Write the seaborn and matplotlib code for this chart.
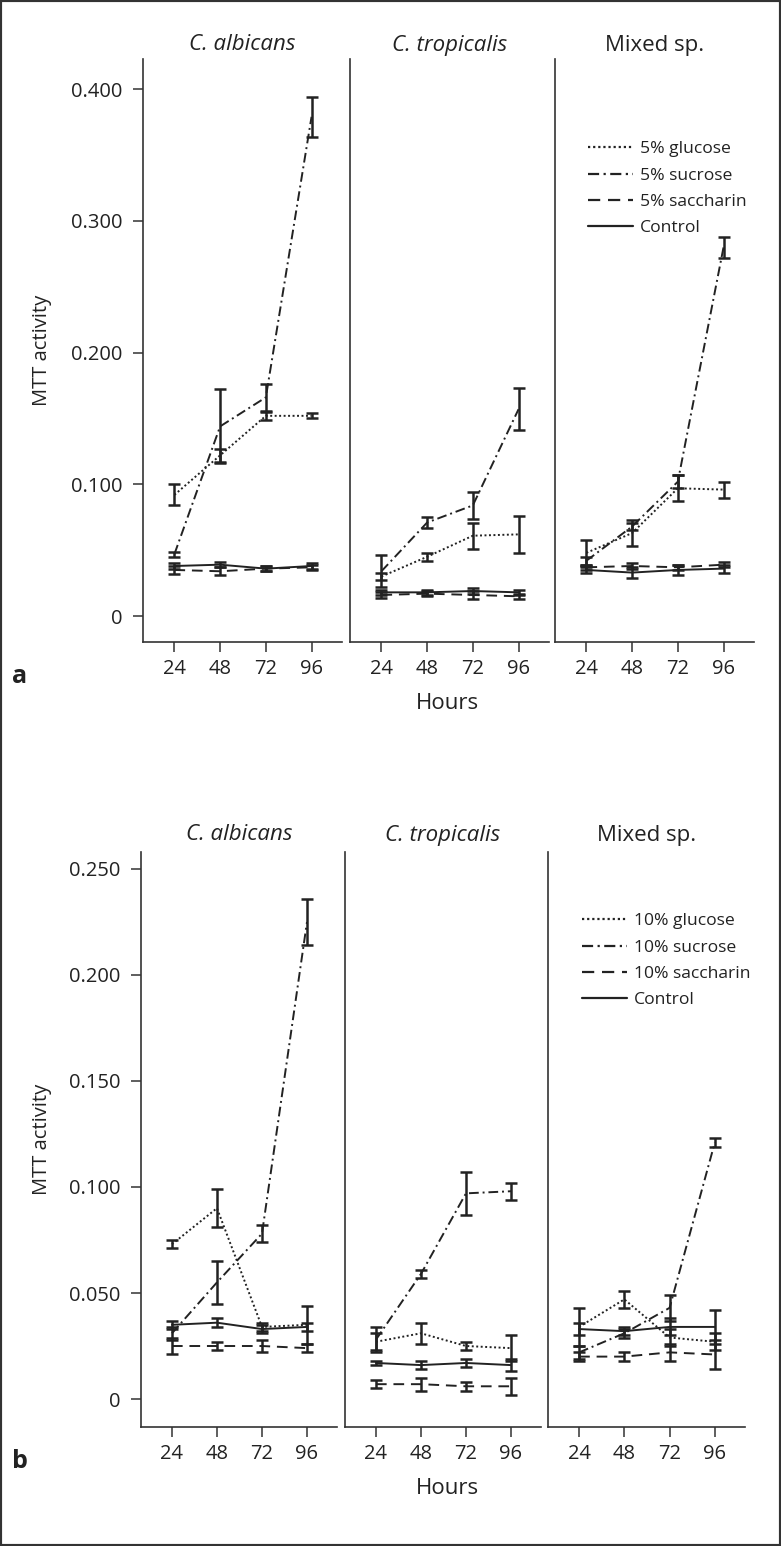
import pandas as pd
import seaborn as sns
import matplotlib.pyplot as plt
from matplotlib.lines import Line2D
from matplotlib.patches import Rectangle

hours = [24, 48, 72, 96]
species = ['C. albicans', 'C. tropicalis', 'Mixed sp.']
treatments_a = ['5% glucose', '5% sucrose', '5% saccharin', 'Control']
treatments_b = ['10% glucose', '10% sucrose', '10% saccharin', 'Control']

# panel a, rows = C. albicans, C. tropicalis, Mixed sp.
glucose_a = [[0.092, 0.122, 0.152, 0.152], [0.030, 0.045, 0.061, 0.062], [0.048, 0.063, 0.097, 0.096]]
glucose_a_err = [[0.008, 0.005, 0.003, 0.002], [0.003, 0.003, 0.010, 0.014], [0.010, 0.010, 0.010, 0.006]]
sucrose_a = [[0.047, 0.144, 0.166, 0.379], [0.034, 0.071, 0.084, 0.157], [0.042, 0.068, 0.102, 0.280]]
sucrose_a_err = [[0.002, 0.028, 0.010, 0.015], [0.012, 0.004, 0.010, 0.016], [0.003, 0.003, 0.005, 0.008]]
saccharin_a = [[0.035, 0.034, 0.036, 0.037], [0.016, 0.017, 0.016, 0.015], [0.037, 0.038, 0.037, 0.039]]
saccharin_a_err = [[0.003, 0.003, 0.002, 0.002], [0.002, 0.002, 0.003, 0.002], [0.002, 0.002, 0.002, 0.002]]
control_a = [[0.038, 0.039, 0.036, 0.038], [0.018, 0.018, 0.019, 0.018], [0.035, 0.033, 0.035, 0.036]]
control_a_err = [[0.002, 0.002, 0.002, 0.002], [0.002, 0.002, 0.002, 0.002], [0.002, 0.004, 0.004, 0.003]]

# panel b
glucose_b = [[0.073, 0.090, 0.034, 0.035], [0.027, 0.031, 0.025, 0.024], [0.034, 0.047, 0.029, 0.027]]
glucose_b_err = [[0.002, 0.009, 0.002, 0.009], [0.004, 0.005, 0.002, 0.006], [0.009, 0.004, 0.004, 0.004]]
sucrose_b = [[0.031, 0.055, 0.078, 0.225], [0.028, 0.059, 0.097, 0.098], [0.022, 0.031, 0.043, 0.121]]
sucrose_b_err = [[0.003, 0.010, 0.004, 0.011], [0.006, 0.002, 0.010, 0.004], [0.003, 0.002, 0.006, 0.002]]
saccharin_b = [[0.025, 0.025, 0.025, 0.024], [0.007, 0.007, 0.006, 0.006], [0.020, 0.020, 0.022, 0.021]]
saccharin_b_err = [[0.004, 0.002, 0.003, 0.002], [0.002, 0.003, 0.002, 0.004], [0.002, 0.002, 0.004, 0.007]]
control_b = [[0.035, 0.036, 0.033, 0.034], [0.017, 0.016, 0.017, 0.016], [0.033, 0.032, 0.034, 0.034]]
control_b_err = [[0.002, 0.002, 0.002, 0.002], [0.001, 0.002, 0.002, 0.003], [0.003, 0.002, 0.004, 0.008]]

dash_list = [(1, 1.3), (5, 2, 1, 2), (5.5, 3.5), '']

W, H = 781, 1546
INK = '#222222'

sns.set_style('white')
plt.rcParams['font.family'] = ['Open Sans', 'DejaVu Sans']


def long_table(series, errs, names):
    rows = []
    for name, vals, ers in zip(names, series, errs):
        for sp, v_row, e_row in zip(species, vals, ers):
            for h, v, e in zip(hours, v_row, e_row):
                rows.append({'species': sp, 'treatment': name, 'hours': h, 'mtt': v, 'err': e})
    return pd.DataFrame(rows)


def px_axes(fig, left, right, top, bottom):
    return fig.add_axes([left / W, 1 - bottom / H, (right - left) / W, (bottom - top) / H])


def fmt_y(v):
    return '0' if abs(v) < 1e-9 else '%.3f' % v


def draw_panel(fig, df, names, boxes, top, bottom, ylim, yticks, title_y, leg_pos, letter, label_y):
    dashes = dict(zip(names, dash_list))
    for i, (sp, (l, r)) in enumerate(zip(species, boxes)):
        ax = px_axes(fig, l, r, top, bottom)
        sub = df[df.species == sp]
        sns.lineplot(data=sub, x='hours', y='mtt', style='treatment', style_order=names,
                     dashes=dashes, color=INK, lw=1.4, legend=False, ax=ax)
        for name in names:
            t = sub[sub.treatment == name]
            ax.errorbar(t.hours, t.mtt, yerr=t.err, fmt='none', ecolor=INK,
                        elinewidth=1.8, capsize=4, capthick=1.8)
        ax.set_xlim(7.5, 112)
        ax.set_ylim(*ylim)
        ax.set_xticks(hours)
        ax.set_xticklabels([str(h) for h in hours])
        ax.set_xlabel('')
        ax.set_ylabel('')
        for s in ['top', 'right']:
            ax.spines[s].set_visible(False)
        for s in ['left', 'bottom']:
            ax.spines[s].set_color('#333333')
            ax.spines[s].set_linewidth(1.2)
        ax.tick_params(axis='both', direction='out', length=7.5, width=1.1, color='#333333',
                       labelsize=14.5, labelcolor=INK, pad=6)
        ax.tick_params(axis='x', bottom=True, pad=5)
        if i == 0:
            ax.set_yticks(yticks)
            ax.set_yticklabels([fmt_y(v) for v in yticks])
            ax.tick_params(axis='y', left=True, pad=7)
        else:
            ax.set_yticks([])
        style = 'normal' if sp == 'Mixed sp.' else 'italic'
        fig.text((l + r) / 2 / W, 1 - title_y / H, sp, ha='center', va='center',
                 fontsize=16, style=style, color=INK)
        if i == 2:
            handles = []
            for d in dash_list:
                hnd = Line2D([], [], color=INK, lw=1.6)
                if d != '':
                    hnd.set_dashes(d)
                handles.append(hnd)
            leg = ax.legend(handles, names, loc='upper left', frameon=False, fontsize=12.6,
                            handlelength=2.55, handletextpad=0.4, labelspacing=0.58,
                            bbox_to_anchor=((leg_pos[0] - l) / (r - l),
                                            1 - (leg_pos[1] - top) / (bottom - top)),
                            borderaxespad=0)
            for txt in leg.get_texts():
                txt.set_color(INK)
    fig.text(447 / W, 1 - (label_y + 36) / H, 'Hours', ha='center', va='center', fontsize=16, color=INK)
    fig.text(42 / W, 1 - (top + bottom) / 2 / H, 'MTT activity', rotation=90, ha='center',
             va='center', fontsize=14.5, color=INK)
    fig.text(20 / W, 1 - (label_y + 9) / H, letter, ha='center', va='center', fontsize=18,
             fontweight='bold', color=INK)


fig = plt.figure(figsize=(W / 100, H / 100), dpi=100)

df_a = long_table([glucose_a, sucrose_a, saccharin_a, control_a],
                  [glucose_a_err, sucrose_a_err, saccharin_a_err, control_a_err], treatments_a)
df_b = long_table([glucose_b, sucrose_b, saccharin_b, control_b],
                  [glucose_b_err, sucrose_b_err, saccharin_b_err, control_b_err], treatments_b)

draw_panel(fig, df_a, treatments_a, [(143, 342), (350, 549), (555, 754)], 59, 642,
           (-0.0197, 0.4229), [0, 0.1, 0.2, 0.3, 0.4], 45, (581, 134), 'a', 667)
draw_panel(fig, df_b, treatments_b, [(141, 337), (345, 541), (548, 745)], 852, 1427,
           (-0.0132, 0.258), [0, 0.05, 0.1, 0.15, 0.2, 0.25], 835, (575, 906), 'b', 1452)

fig.add_artist(Rectangle((0, 0), 1, 1, transform=fig.transFigure, fill=False,
                         edgecolor='#333333', lw=3))

fig.savefig('out.png', dpi=100)
